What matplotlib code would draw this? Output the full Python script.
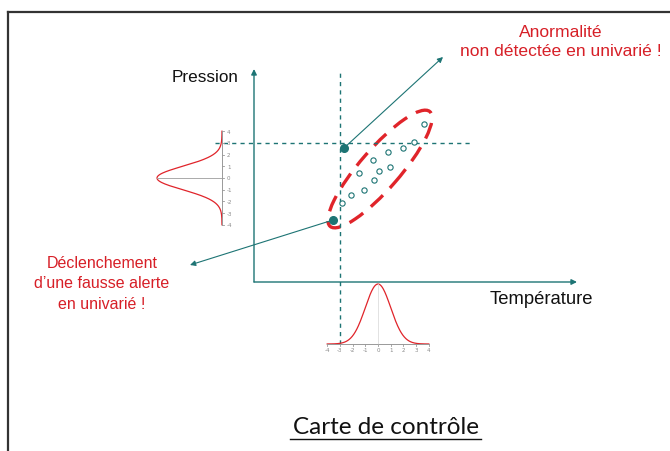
import numpy as np
import matplotlib
matplotlib.use("Agg")
import matplotlib.pyplot as plt
from matplotlib.patches import Ellipse
from matplotlib.lines import Line2D

# points of the scatter (temperature, pression), in schema units
temperature = [170, 160, 149, 134, 119, 136, 125, 105, 120, 110, 97, 88]
pression = [158, 140, 134, 130, 122, 115, 111, 109, 102, 92, 87, 79]

# the two abnormal points
anom_temp = [90, 79]
anom_pres = [134, 62]

# univariate distributions (mean, sigma)
temp_mean, temp_sigma = 124, 12.7
pres_mean, pres_sigma = 104, 11.7
sigma_ticks = [-4, -3, -2, -1, 0, 1, 2, 3, 4]

# confidence ellipse
ell_center = (126, 113)
ell_width, ell_height, ell_angle = 152, 40, 49

teal = "#1d7474"
red = "#e0242a"
red_txt = "#d71f27"

fig = plt.figure(figsize=(6.7, 4.52), dpi=100)
ax = fig.add_axes([0, 0, 1, 1])
ax.set_xlim(-254, 416)
ax.set_ylim(-169, 283)
ax.axis("off")

# frame of the slide (top and left only)
fig.add_artist(Line2D([8 / 670, 1], [1 - 13 / 452, 1 - 13 / 452], color="#333333", lw=1.6))
fig.add_artist(Line2D([8 / 670, 8 / 670], [0, 1 - 13 / 452], color="#333333", lw=1.6))

# axes of the diagram
arr = dict(arrowstyle="-|>", color=teal, lw=1.0, mutation_scale=8, shrinkA=0, shrinkB=0)
ax.annotate("", xy=(0, 213), xytext=(0, 0), arrowprops=arr)
ax.annotate("", xy=(323, 0), xytext=(0, 0), arrowprops=arr)
ax.text(-16, 206, "Pression", ha="right", va="center", fontsize=12.3,
        family="Liberation Sans", color="#111111")
ax.text(236, -17, "Température", ha="left", va="center", fontsize=13.3,
        family="Liberation Sans", color="#111111")

# univariate control limits
t_lim = temp_mean - 3 * temp_sigma
p_lim = pres_mean + 3 * pres_sigma
ax.plot([t_lim, t_lim], [-62, 213], color=teal, lw=1.0, ls=(0, (3, 3)))
ax.plot([-39, 219], [p_lim, p_lim], color=teal, lw=1.0, ls=(0, (3, 3)))

# gaussian on the temperature axis (bottom)
base_b = -62
t = np.linspace(temp_mean - 4 * temp_sigma, temp_mean + 4 * temp_sigma, 200)
gt = np.exp(-0.5 * ((t - temp_mean) / temp_sigma) ** 2)
ax.plot(t, base_b + 60 * gt, color=red, lw=0.9)
ax.plot([t[0], t[-1]], [base_b, base_b], color="#999999", lw=0.7)
ax.plot([temp_mean, temp_mean], [base_b, base_b + 60], color="#dddddd", lw=0.6)
for s in sigma_ticks:
    x = temp_mean + s * temp_sigma
    ax.plot([x, x], [base_b, base_b - 2], color="#999999", lw=0.6)
    ax.text(x, base_b - 6, str(s), ha="center", va="center", fontsize=4, color="#888888")

# gaussian on the pression axis (left)
base_l = -32
p = np.linspace(pres_mean - 4 * pres_sigma, pres_mean + 4 * pres_sigma, 200)
gp = np.exp(-0.5 * ((p - pres_mean) / pres_sigma) ** 2)
ax.plot(base_l - 65 * gp, p, color=red, lw=0.9)
ax.plot([base_l, base_l], [p[0], p[-1]], color="#999999", lw=0.7)
ax.plot([base_l - 65, base_l], [pres_mean, pres_mean], color="#aaaaaa", lw=0.7)
for s in sigma_ticks:
    y = pres_mean + s * pres_sigma
    ax.plot([base_l, base_l + 2], [y, y], color="#999999", lw=0.6)
    ax.text(base_l + 5, y, str(s), ha="left", va="center", fontsize=4, color="#888888")

# confidence ellipse
ax.add_patch(Ellipse(ell_center, ell_width, ell_height, angle=ell_angle, fill=False,
                     edgecolor=red, lw=2.4, ls=(0, (5, 3))))

# observations
ax.plot(temperature, pression, "o", ms=3.8, mfc="white", mec=teal, mew=0.8)
ax.plot(anom_temp, anom_pres, "o", ms=5.5, color=teal)

# arrows to comments
arr2 = dict(arrowstyle="-|>", color=teal, lw=0.8, mutation_scale=8, shrinkA=0, shrinkB=0)
ax.annotate("", xy=(189, 225), xytext=(anom_temp[0], anom_pres[0]), arrowprops=arr2)
ax.annotate("", xy=(-64, 17), xytext=(anom_temp[1], anom_pres[1]), arrowprops=arr2)

ax.text(307, 241, "Anormalité\nnon détectée en univarié !", ha="center", va="center",
        fontsize=12.6, family="Liberation Sans", color=red_txt, linespacing=1.3)
ax.text(-152, -1, "Déclenchement\nd’une fausse alerte\nen univarié !", ha="center", va="center",
        fontsize=11.5, family="Liberation Sans", color=red_txt, linespacing=1.45)

# title, underlined
ax.text(132, -145, "Carte de contrôle", ha="center", va="center", fontsize=17.5,
        family="Lato", color="#111111")
ax.plot([36, 227], [-157, -157], color="#111111", lw=1.0)

fig.savefig("out.png", dpi=100)
